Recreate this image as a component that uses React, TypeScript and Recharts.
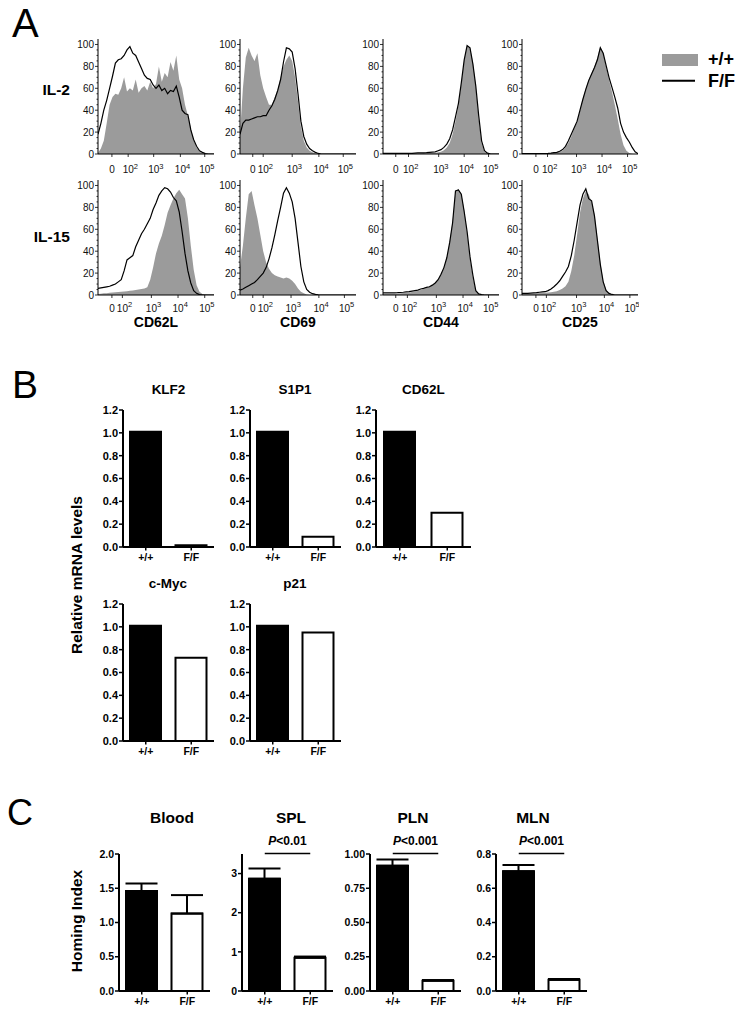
import React from "react"
import {
  ComposedChart,
  Area,
  Line,
  XAxis,
  YAxis,
  BarChart,
  Bar,
  Cell,
  ErrorBar,
  ReferenceLine,
} from "recharts"

const FONT = "'Liberation Sans', Arial, Helvetica, sans-serif"

// ---------- Panel A: flow histograms ----------
// display channel (0-100 across the plot, biexponential)
const channels = [
  0, 2.5, 5, 7.5, 10, 12.5, 15, 17.5, 20, 22.5, 25, 27.5, 30, 32.5, 35, 37.5, 40, 42.5, 45, 47.5, 50,
  52.5, 55, 57.5, 60, 62.5, 65, 67.5, 70, 72.5, 75, 77.5, 80, 82.5, 85, 87.5, 90, 92.5, 95, 97.5, 100,
]
const histYTicks = [0, 5, 10, 15, 20, 25, 30, 35, 40, 45, 50, 55, 60, 65, 70, 75, 80, 85, 90, 95, 100]
const markers = ["CD62L", "CD69", "CD44", "CD25"]
const cytokines = ["IL-2", "IL-15"]
const decadeLabels = ["0", "2", "3", "4", "5"]

// tick channel of 0, 10^2 ... 10^5 for each plot
const il2Ticks = [
  [12, 26, 48, 71, 92],
  [11, 20, 45, 68, 89],
  [11, 22, 48, 70, 91],
  [12, 22, 47, 69, 91],
]
const il15Ticks = [
  [12, 21, 46, 69, 92],
  [11, 20, 44, 68, 90],
  [11, 21, 46, 69, 91],
  [12, 21, 47, 71, 93],
]

// +/+ (gray filled) and F/F (black line), % of max
const cd62lIl2Wt = [1, 5, 12, 28, 45, 52, 55, 54, 60, 70, 57, 60, 58, 68, 56, 60, 62, 58, 66, 60, 64, 80, 66, 74, 70, 84, 76, 90, 68, 60, 45, 35, 24, 12, 6, 2, 1, 0, 0, 0, 0]
const cd62lIl2Ff = [18, 28, 40, 49, 60, 71, 83, 86, 87, 90, 95, 98, 92, 90, 84, 78, 72, 69, 68, 63, 60, 63, 58, 60, 55, 58, 57, 62, 52, 40, 37, 36, 22, 13, 7, 3, 1.5, 0.3, 0, 0, 0]
const cd69Il2Wt = [18, 60, 88, 97, 90, 85, 92, 72, 60, 52, 45, 45, 52, 58, 70, 80, 86, 90, 85, 70, 48, 25, 12, 6, 3, 1.5, 0.5, 0, 0, 0, 0, 0, 0, 0, 0, 0, 0, 0, 0, 0, 0]
const cd69Il2Ff = [18, 28, 31, 31, 32, 33, 34, 34, 35, 35, 40, 44, 50, 58, 68, 84, 97, 96, 93, 78, 55, 30, 16, 9, 5, 3, 1.5, 0.5, 0, 0, 0, 0, 0, 0, 0, 0, 0, 0, 0, 0, 0]
const cd44Il2Wt = [0.3, 0.3, 0.3, 0.3, 0.3, 0.3, 0.3, 0.3, 0.3, 0.3, 0.3, 0.4, 0.5, 0.5, 0.6, 0.7, 0.8, 0.9, 1, 1.5, 2, 3.5, 6, 10, 18, 30, 44, 64, 86, 99, 97, 84, 62, 32, 10, 2, 0.5, 0, 0, 0, 0]
const cd44Il2Ff = [0.5, 0.5, 0.5, 0.5, 0.5, 0.5, 0.5, 0.5, 0.5, 0.5, 0.5, 0.8, 1, 1, 1, 1.2, 1.5, 1.8, 2, 3, 4, 6, 9, 14, 22, 34, 46, 65, 86, 99, 97, 82, 62, 35, 12, 3, 0.8, 0.2, 0, 0, 0]
const cd25Il2Wt = [0.3, 0.3, 0.3, 0.3, 0.3, 0.3, 0.3, 0.3, 0.3, 0.4, 0.6, 1, 1.3, 2, 3, 6, 10, 16, 23, 30, 40, 51, 60, 68, 74, 80, 88, 98, 92, 80, 68, 57, 45, 32, 18, 8, 3, 1, 0.3, 0, 0]
const cd25Il2Ff = [0.3, 0.3, 0.3, 0.3, 0.3, 0.3, 0.3, 0.3, 0.3, 0.5, 0.8, 1.2, 1.5, 2.5, 4, 7, 12, 18, 24, 30, 40, 50, 59, 67, 73, 79, 86, 97, 92, 81, 70, 61, 52, 42, 28, 20, 15, 11, 6, 2, 0.3]
const cd62lIl15Wt = [1, 1.2, 1.5, 1.7, 2, 2.2, 2.5, 2.8, 3, 3.2, 3.5, 3.8, 4, 4.5, 5, 5.5, 6, 7, 14, 25, 38, 47, 54, 64, 75, 82, 88, 93, 96, 92, 88, 70, 45, 23, 9, 3, 1, 0.3, 0, 0, 0]
const cd62lIl15Ff = [6, 6.5, 7, 7.5, 8, 9, 10, 12, 14, 22, 32, 34, 36, 44, 50, 56, 60, 65, 70, 78, 84, 91, 95, 98, 97, 94, 89, 86, 76, 58, 38, 22, 11, 4, 1.5, 0.3, 0, 0, 0, 0, 0]
const cd69Il15Wt = [25, 45, 70, 92, 95, 82, 70, 55, 40, 30, 24, 20, 18, 17, 16, 15, 16, 15, 13, 10, 6, 3, 1.5, 0.5, 0, 0, 0, 0, 0, 0, 0, 0, 0, 0, 0, 0, 0, 0, 0, 0, 0]
const cd69Il15Ff = [4.5, 5.5, 7, 8.5, 10, 11.5, 14, 17, 20, 25, 33, 43, 55, 68, 80, 93, 98, 93, 85, 70, 48, 26, 12, 5, 2.5, 1.2, 0.5, 0.2, 0, 0, 0, 0, 0, 0, 0, 0, 0, 0, 0, 0, 0]
const cd44Il15Wt = [1, 1, 1, 1, 1, 1.2, 1.5, 1.8, 2, 2.3, 2.7, 3.2, 3.8, 4.5, 5.5, 6.5, 7.5, 9, 11, 14, 19, 25, 34, 48, 68, 94, 97, 92, 78, 57, 33, 16, 4, 1, 0.3, 0, 0, 0, 0, 0, 0]
const cd44Il15Ff = [2, 2, 2, 2, 2, 2.1, 2.3, 2.5, 2.8, 3, 3.5, 4, 4.5, 5.5, 6, 7, 7.5, 9, 11, 14, 19, 25, 34, 48, 66, 95, 96, 92, 76, 58, 35, 18, 4, 1, 0.3, 0, 0, 0, 0, 0, 0]
const cd25Il15Wt = [1, 1, 1, 1.2, 1.4, 1.6, 1.8, 2, 2, 2.2, 2.5, 3, 3.5, 4.5, 6, 8, 12, 22, 36, 55, 75, 88, 95, 92, 85, 74, 52, 30, 13, 5, 2, 0.5, 0, 0, 0, 0, 0, 0, 0, 0, 0]
const cd25Il15Ff = [1.5, 1.5, 1.5, 1.8, 2, 2.2, 2.5, 2.8, 3, 4, 5.5, 7.5, 10, 13, 17, 21, 26, 36, 50, 66, 82, 92, 97, 88, 86, 72, 50, 28, 12, 4, 1.5, 0.5, 0, 0, 0, 0, 0, 0, 0, 0, 0]

const il2Wt = [cd62lIl2Wt, cd69Il2Wt, cd44Il2Wt, cd25Il2Wt]
const il2Ff = [cd62lIl2Ff, cd69Il2Ff, cd44Il2Ff, cd25Il2Ff]
const il15Wt = [cd62lIl15Wt, cd69Il15Wt, cd44Il15Wt, cd25Il15Wt]
const il15Ff = [cd62lIl15Ff, cd69Il15Ff, cd44Il15Ff, cd25Il15Ff]

// ---------- Panel B: qPCR ----------
const genotypes = ["+/+", "F/F"]
const genes = ["KLF2", "S1P1", "CD62L", "c-Myc", "p21"]
const mrnaWt = [1.01, 1.01, 1.01, 1.01, 1.01]
const mrnaFf = [0.015, 0.09, 0.3, 0.73, 0.95]
const mrnaTicks = [0, 0.2, 0.4, 0.6, 0.8, 1.0, 1.2]

// ---------- Panel C: homing ----------
const tissues = ["Blood", "SPL", "PLN", "MLN"]
const homingWt = [1.46, 2.87, 0.915, 0.7]
const homingWtErr = [0.11, 0.26, 0.045, 0.036]
const homingFf = [1.13, 0.85, 0.075, 0.065]
const homingFfErr = [0.27, 0.03, 0.005, 0.005]
const homingP = ["", "<0.01", "<0.001", "<0.001"]
const homingTicks = [
  [0, 0.5, 1.0, 1.5, 2.0],
  [0, 1, 2, 3],
  [0, 0.25, 0.5, 0.75, 1.0],
  [0, 0.2, 0.4, 0.6, 0.8],
]
const homingMax = [2.0, 3.5, 1.0, 0.8]
const homingDigits = [1, 0, 2, 1]

// layout
const histLefts = [98, 240, 383, 522]
const histTops = [39, 180]
const geneAxisX = [123, 249.5, 376, 122.5, 249.5]
const geneTops = [410, 410, 410, 604, 604]
const geneWidths = [91, 91, 95, 91, 91]
const tissueAxisX = [119, 242, 370, 496]
const tissueTitleX = [172, 291, 413, 533]
const barFills = ["#000", "#fff"]

const HistYTick = ({ x, y, payload }: any) => {
  const major = payload.value % 20 === 0
  return (
    <g>
      <line x1={x} x2={x - (major ? 3 : 1.5)} y1={y} y2={y} stroke="#000" strokeWidth={0.8} />
      {major && (
        <text x={x - 4} y={y} dy="0.35em" textAnchor="end" fontSize={10} fontFamily={FONT} fill="#111">
          {payload.value}
        </text>
      )}
    </g>
  )
}

const HistXTick = ({ x, y, payload, ticks, dy }: any) => {
  const i = ticks.indexOf(payload.value)
  return (
    <g>
      <line x1={x} x2={x} y1={y} y2={y + 3} stroke="#000" strokeWidth={0.8} />
      {i === 0 ? (
        <text x={x} y={y + dy} textAnchor="middle" fontSize={10} fontFamily={FONT} fill="#111">
          0
        </text>
      ) : (
        <text x={x - 5.5} y={y + dy} fontSize={10} fontFamily={FONT} fill="#111">
          10
          <tspan dy={-4.5} fontSize={7.5}>
            {decadeLabels[i]}
          </tspan>
        </text>
      )}
    </g>
  )
}

// bold GraphPad style tick labels
const BarYTick = ({ x, y, payload, fmt, size }: any) => (
  <text x={x} y={y} dy="0.35em" textAnchor="end" fontSize={size} fontWeight="bold" fontFamily={FONT} fill="#000">
    {fmt(payload.value)}
  </text>
)

const BarXTick = ({ x, y, payload }: any) => (
  <text x={x} y={y + 10} textAnchor="middle" fontSize={10.5} fontWeight="bold" fontFamily={FONT} fill="#000">
    {payload.value}
  </text>
)

function Histogram({ left, top, wt, ff, ticks, labelDy }: any) {
  const data = channels.map((x, i) => ({ x, wt: wt[i], ff: ff[i] }))
  const yw = 30
  return (
    <div style={{ position: "absolute", left: left - yw, top: top - 1 }}>
      <ComposedChart
        width={yw + 117}
        height={1 + 115 + 26}
        data={data}
        margin={{ top: 1, right: 1, bottom: 0, left: 0 }}
      >
        <XAxis
          dataKey="x"
          type="number"
          domain={[0, 100]}
          ticks={ticks}
          interval={0}
          height={26}
          tickSize={0}
          tickMargin={0}
          axisLine={{ stroke: "#000", strokeWidth: 1 }}
          tickLine={false}
          tick={(p: any) => <HistXTick {...p} ticks={ticks} dy={labelDy} />}
          allowDataOverflow
        />
        <XAxis xAxisId="t" orientation="top" height={0} axisLine={{ stroke: "#8a8a8a" }} tick={false} tickLine={false} />
        <YAxis
          type="number"
          domain={[0, 105]}
          ticks={histYTicks}
          interval={0}
          width={yw}
          tickSize={0}
          tickMargin={0}
          axisLine={{ stroke: "#000", strokeWidth: 1 }}
          tickLine={false}
          tick={<HistYTick />}
          allowDataOverflow
        />
        <YAxis yAxisId="r" orientation="right" width={0} axisLine={{ stroke: "#8a8a8a" }} tick={false} tickLine={false} />
        <Area
          dataKey="wt"
          type="linear"
          stroke="none"
          fill="#9b9b9b"
          fillOpacity={1}
          dot={false}
          activeDot={false}
          isAnimationActive={false}
        />
        <Line
          dataKey="ff"
          type="linear"
          stroke="#000"
          strokeWidth={1.2}
          dot={false}
          activeDot={false}
          isAnimationActive={false}
        />
      </ComposedChart>
    </div>
  )
}

const SigLabel = ({ viewBox, text }: any) => {
  const { x, y, width } = viewBox
  return (
    <text x={x + width / 2} y={y - 8} textAnchor="middle" fontSize={12} fontWeight="bold" fontFamily={FONT} fill="#000">
      <tspan fontStyle="italic">P</tspan>
      {text}
    </text>
  )
}

function BarPanel({ axisX, plotTop, plotW, data, domain, ticks, fmt, sig, tickFont }: any) {
  const yw = 34
  const mt = 26
  const plotH = 137
  const hasErr = data[0].e !== undefined
  return (
    <div style={{ position: "absolute", left: axisX - yw, top: plotTop - mt }}>
      <BarChart
        width={yw + plotW + 2}
        height={mt + plotH + 24}
        data={data}
        margin={{ top: mt, right: 2, bottom: 0, left: 0 }}
      >
        <XAxis
          dataKey="g"
          interval={0}
          height={24}
          tickSize={3.5}
          tickMargin={0}
          axisLine={{ stroke: "#000", strokeWidth: 2 }}
          tickLine={{ stroke: "#000", strokeWidth: 1.5 }}
          tick={<BarXTick />}
        />
        <YAxis
          type="number"
          domain={domain}
          ticks={ticks}
          interval={0}
          width={yw}
          tickSize={4}
          tickMargin={1}
          axisLine={{ stroke: "#000", strokeWidth: 2 }}
          tickLine={{ stroke: "#000", strokeWidth: 1.5 }}
          tick={<BarYTick fmt={fmt} size={tickFont} />}
          allowDataOverflow
        />
        <Bar dataKey="v" barSize={31} stroke="#000" strokeWidth={2} isAnimationActive={false}>
          {data.map((_: any, i: number) => (
            <Cell key={i} fill={barFills[i]} />
          ))}
          {hasErr && <ErrorBar dataKey="e" width={16} stroke="#000" strokeWidth={2} direction="y" />}
        </Bar>
        {sig && (
          <ReferenceLine
            segment={[
              { x: genotypes[0], y: domain[1] * 1.004 },
              { x: genotypes[1], y: domain[1] * 1.004 },
            ]}
            stroke="#000"
            strokeWidth={1.5}
            ifOverflow="visible"
            label={(p: any) => <SigLabel {...p} text={sig} />}
          />
        )}
      </BarChart>
    </div>
  )
}

export default function App() {
  return (
    <div
      style={{
        position: "absolute",
        left: 0,
        top: 0,
        width: 746,
        height: 1012,
        background: "#fff",
        fontFamily: FONT,
      }}
    >
      {/* A: histograms */}
      {markers.map((m, i) => (
        <Histogram
          key={"il2" + m}
          left={histLefts[i]}
          top={histTops[0]}
          wt={il2Wt[i]}
          ff={il2Ff[i]}
          ticks={il2Ticks[i]}
          labelDy={19}
        />
      ))}
      {markers.map((m, i) => (
        <Histogram
          key={"il15" + m}
          left={histLefts[i]}
          top={histTops[1]}
          wt={il15Wt[i]}
          ff={il15Ff[i]}
          ticks={il15Ticks[i]}
          labelDy={16.5}
        />
      ))}

      {/* B: mRNA */}
      {genes.map((g, i) => (
        <BarPanel
          key={g}
          axisX={geneAxisX[i]}
          plotTop={geneTops[i]}
          plotW={geneWidths[i]}
          data={[
            { g: genotypes[0], v: mrnaWt[i] },
            { g: genotypes[1], v: mrnaFf[i] },
          ]}
          domain={[0, 1.2]}
          ticks={mrnaTicks}
          fmt={(v: number) => v.toFixed(1)}
          tickFont={11}
        />
      ))}

      {/* C: homing */}
      {tissues.map((t, i) => (
        <BarPanel
          key={t}
          axisX={tissueAxisX[i]}
          plotTop={853.5}
          plotW={91}
          data={[
            { g: genotypes[0], v: homingWt[i], e: [0, homingWtErr[i]] },
            { g: genotypes[1], v: homingFf[i], e: [0, homingFfErr[i]] },
          ]}
          domain={[0, homingMax[i]]}
          ticks={homingTicks[i]}
          fmt={(v: number) => v.toFixed(homingDigits[i])}
          sig={homingP[i]}
          tickFont={10.5}
        />
      ))}

      {/* text labels and legend */}
      <svg
        width={746}
        height={1012}
        style={{ position: "absolute", left: 0, top: 0, pointerEvents: "none" }}
        fontFamily={FONT}
      >
        <text x={12} y={37} fontSize={40} fill="#000">A</text>
        <text x={12} y={398} fontSize={39} fill="#000">B</text>
        <text x={7} y={825} fontSize={36} fill="#000">C</text>

        <text x={70} y={95} fontSize={15.5} fontWeight="bold" textAnchor="end">{cytokines[0]}</text>
        <text x={70} y={242} fontSize={15.5} fontWeight="bold" textAnchor="end">{cytokines[1]}</text>
        {markers.map((m, i) => (
          <text key={m} x={histLefts[i] + 58} y={327} fontSize={14} fontWeight="bold" textAnchor="middle">
            {m}
          </text>
        ))}

        <rect x={662} y={54} width={36} height={12} fill="#9b9b9b" />
        <text x={708} y={65} fontSize={18} fontWeight="bold">{genotypes[0]}</text>
        <line x1={662} x2={695} y1={80.7} y2={80.7} stroke="#000" strokeWidth={2} />
        <text x={708} y={87} fontSize={18} fontWeight="bold">{genotypes[1]}</text>

        {genes.map((g, i) => (
          <text
            key={g}
            x={geneAxisX[i] + geneWidths[i] / 2}
            y={geneTops[i] - 16}
            fontSize={13.5}
            fontWeight="bold"
            textAnchor="middle"
          >
            {g}
          </text>
        ))}
        <text transform="translate(82,575) rotate(-90)" fontSize={15.5} fontWeight="bold" textAnchor="middle">
          Relative mRNA levels
        </text>

        {tissues.map((t, i) => (
          <text key={t} x={tissueTitleX[i]} y={823} fontSize={15.5} fontWeight="bold" textAnchor="middle">
            {t}
          </text>
        ))}
        <text transform="translate(82,921) rotate(-90)" fontSize={15.5} fontWeight="bold" textAnchor="middle">
          Homing Index
        </text>
      </svg>
    </div>
  )
}
